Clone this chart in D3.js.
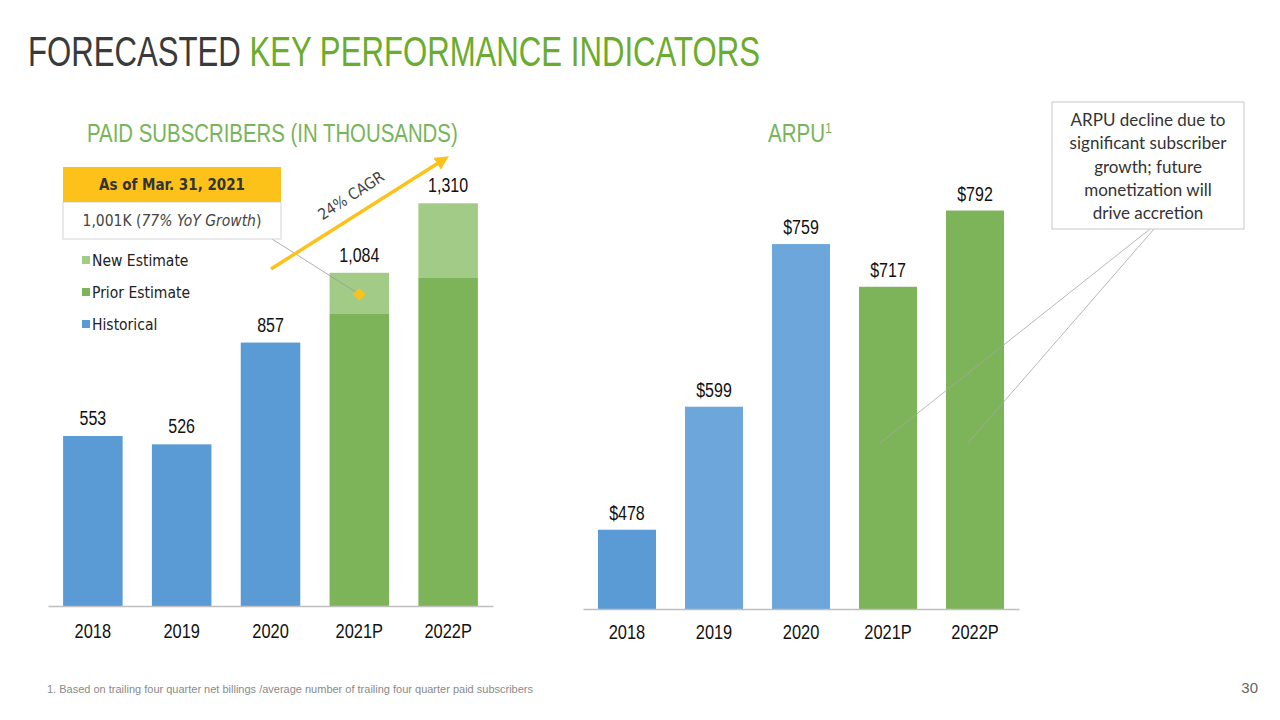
<!DOCTYPE html>
<html>
<head>
<meta charset="utf-8">
<script src="https://cdn.jsdelivr.net/npm/d3@7"></script>
<style>
  html, body { margin: 0; padding: 0; background: #fff; }
  svg { display: block; }
</style>
</head>
<body>
<svg id="chart" width="1280" height="720"></svg>
<script>
// ---------------- DATA ----------------
const categories = ["2018", "2019", "2020", "2021P", "2022P"];
const historicalSubs = [553, 526, 857, null, null];
const priorEstimateSubs = [null, null, null, 950, 1067];
const newEstimateSubs = [null, null, null, 134, 243];
const subsTotals = [553, 526, 857, 1084, 1310];
const asOfValue = 1001;            // diamond marker, 2021P
const asOfCategory = "2021P";
const arpuValues = [478, 599, 759, 717, 792];
const arpuKinds = ["hist", "hist2", "hist2", "proj", "proj"];
const legendLabels = ["New Estimate", "Prior Estimate", "Historical"];
const annotationLines = ["ARPU decline due to", "significant subscriber", "growth; future", "monetization will", "drive accretion"];

// ---------------- STYLE ----------------
const C = {
  blue: "#5b9bd5",
  blue2: "#6ca6da",
  green: "#7db45a",
  lightGreen: "#a2cb88",
  gold: "#fdc21a",
  axis: "#bfbfbf",
  titleDark: "#3a3a3a",
  titleGreen: "#6cac2c",
  subGreen: "#78b45a"
};
const narrow = "'Liberation Sans', Arial, sans-serif";
const cond = "'DejaVu Sans Condensed', 'DejaVu Sans', sans-serif";
const calib = "Lato, 'Open Sans', sans-serif";

const svg = d3.select("#chart");

// condense a text horizontally (emulates a narrow typeface)
function squeeze(sel, ratio) {
  sel.each(function() {
    const len = this.getComputedTextLength();
    d3.select(this).attr("textLength", len * ratio).attr("lengthAdjust", "spacingAndGlyphs");
  });
}
function fitTo(sel, w) {
  sel.each(function() {
    d3.select(this).attr("textLength", w).attr("lengthAdjust", "spacingAndGlyphs");
  });
}
// horizontally scaled text group: returns the text selection, scaled to target width
function scaledText(x, y, width, build) {
  const g = svg.append("g");
  const t = g.append("text").attr("x", 0).attr("y", 0);
  build(t);
  const w = t.node().getComputedTextLength();
  g.attr("transform", `translate(${x},${y}) scale(${width / w},1)`);
  return t;
}

// ---------------- TITLE ----------------
scaledText(28, 66, 732, t => {
  t.style("font-family", narrow).style("font-size", "42px");
  t.append("tspan").attr("fill", C.titleDark).text("FORECASTED ");
  t.append("tspan").attr("fill", C.titleGreen).text("KEY PERFORMANCE INDICATORS");
});

// subtitles
scaledText(87, 142, 371, t => {
  t.style("font-family", narrow).style("font-size", "25px").attr("fill", C.subGreen)
    .text("PAID SUBSCRIBERS (IN THOUSANDS)");
});
scaledText(768, 142, 64, t => {
  t.style("font-family", narrow).style("font-size", "25px").attr("fill", C.subGreen);
  t.append("tspan").text("ARPU");
  t.append("tspan").attr("dy", -9).style("font-size", "15px").text("1");
});

// ---------------- LEFT CHART ----------------
const xL = d3.scaleBand().domain(categories).range([48, 493]).paddingInner(0.33).paddingOuter(0.17);
const yL = d3.scaleLinear().domain([0, 1400]).range([606, 606 - 1400 * 0.3074]);

const left = svg.append("g");
const subsRows = categories.map((c, i) => ({
  cat: c, hist: historicalSubs[i], prior: priorEstimateSubs[i], nw: newEstimateSubs[i], total: subsTotals[i]
}));

left.selectAll(".hist").data(subsRows.filter(d => d.hist != null)).join("rect")
  .attr("x", d => xL(d.cat)).attr("width", xL.bandwidth())
  .attr("y", d => yL(d.hist)).attr("height", d => yL(0) - yL(d.hist))
  .attr("fill", C.blue);
left.selectAll(".prior").data(subsRows.filter(d => d.prior != null)).join("rect")
  .attr("x", d => xL(d.cat)).attr("width", xL.bandwidth())
  .attr("y", d => yL(d.prior)).attr("height", d => yL(0) - yL(d.prior))
  .attr("fill", C.green);
left.selectAll(".new").data(subsRows.filter(d => d.nw != null)).join("rect")
  .attr("x", d => xL(d.cat)).attr("width", xL.bandwidth())
  .attr("y", d => yL(d.prior + d.nw)).attr("height", d => yL(d.prior) - yL(d.prior + d.nw))
  .attr("fill", C.lightGreen);

left.selectAll(".lbl").data(subsRows).join("text")
  .attr("x", d => xL(d.cat) + xL.bandwidth() / 2)
  .attr("y", d => yL(d.total) - 11)
  .attr("text-anchor", "middle")
  .style("font-family", narrow).style("font-size", "20px").attr("fill", "#111")
  .text(d => d3.format(",")(d.total))
  .call(squeeze, 0.8);

const axL = left.append("g").attr("transform", `translate(0,${yL(0)})`)
  .call(d3.axisBottom(xL).tickSize(0).tickPadding(18).tickSizeOuter(0));
axL.select(".domain").attr("stroke", C.axis).attr("stroke-width", 1.5);
axL.selectAll("text").style("font-family", narrow).style("font-size", "20px").attr("fill", "#111")
  .call(squeeze, 0.82);

// legend
const legendColors = [C.lightGreen, C.green, C.blue];
const lg = left.append("g");
legendLabels.forEach((l, i) => {
  const cy = 261 + i * 32;
  lg.append("rect").attr("x", 82).attr("y", cy - 5).attr("width", 8).attr("height", 8).attr("fill", legendColors[i]);
  lg.append("text").attr("x", 92).attr("y", cy).attr("dy", "0.35em")
    .style("font-family", cond).style("font-size", "15.5px").attr("fill", "#222").text(l);
});

// diamond marker and connector
const dx = xL(asOfCategory) + xL.bandwidth() / 2, dy = yL(asOfValue) - 4;
left.append("line").attr("x1", 272).attr("y1", 239).attr("x2", dx).attr("y2", dy)
  .attr("stroke", "#9a9a9a").attr("stroke-width", 0.8);
left.append("rect").attr("x", -4.5).attr("y", -4.5).attr("width", 9).attr("height", 9)
  .attr("fill", C.gold).attr("transform", `translate(${dx},${dy}) rotate(45)`);

// callout box
left.append("rect").attr("x", 63).attr("y", 202).attr("width", 218).attr("height", 37)
  .attr("fill", "#fff").attr("stroke", "#d4d4d4").attr("stroke-width", 1);
left.append("rect").attr("x", 63).attr("y", 167).attr("width", 218).attr("height", 35).attr("fill", C.gold);
left.append("text").attr("x", 172).attr("y", 185).attr("dy", "0.35em").attr("text-anchor", "middle")
  .style("font-family", cond).style("font-size", "15px").style("font-weight", "bold").attr("fill", "#333")
  .text("As of Mar. 31, 2021");
const bt = left.append("text").attr("x", 172).attr("y", 221).attr("dy", "0.35em").attr("text-anchor", "middle")
  .style("font-family", cond).style("font-size", "15.5px").attr("fill", "#444");
bt.append("tspan").text("1,001K (");
bt.append("tspan").style("font-style", "italic").text("77% YoY Growth");
bt.append("tspan").text(")");

// CAGR arrow
svg.append("defs").append("marker").attr("id", "arrow").attr("viewBox", "0 0 10 10")
  .attr("refX", 5).attr("refY", 5).attr("markerWidth", 4).attr("markerHeight", 4).attr("orient", "auto")
  .append("path").attr("d", "M0,0 L10,5 L0,10 z").attr("fill", C.gold);
left.append("line").attr("x1", 271).attr("y1", 269).attr("x2", 443).attr("y2", 160)
  .attr("stroke", C.gold).attr("stroke-width", 3.5).attr("marker-end", "url(#arrow)");
left.append("text").attr("transform", "translate(354,200) rotate(-33)").attr("text-anchor", "middle")
  .style("font-family", cond).style("font-size", "15.5px").attr("fill", "#444").text("24% CAGR");

// ---------------- RIGHT CHART ----------------
const xR = d3.scaleBand().domain(categories).range([583, 1019]).paddingInner(0.333).paddingOuter(0.172);
const yR = d3.scaleLinear().domain([400, 800]).range([609, 609 - 400 * 1.0165]);
const arpuColor = { hist: C.blue, hist2: C.blue2, proj: C.green };
const right = svg.append("g");
const arpuRows = categories.map((c, i) => ({ cat: c, v: arpuValues[i], k: arpuKinds[i] }));

right.selectAll(".bar").data(arpuRows).join("rect")
  .attr("x", d => xR(d.cat)).attr("width", xR.bandwidth())
  .attr("y", d => yR(d.v)).attr("height", d => yR(400) - yR(d.v))
  .attr("fill", d => arpuColor[d.k]);
right.selectAll(".lbl").data(arpuRows).join("text")
  .attr("x", d => xR(d.cat) + xR.bandwidth() / 2)
  .attr("y", d => yR(d.v) - 10)
  .attr("text-anchor", "middle")
  .style("font-family", narrow).style("font-size", "20px").attr("fill", "#111")
  .text(d => "$" + d.v)
  .call(squeeze, 0.8);

const axR = right.append("g").attr("transform", `translate(0,${yR(400)})`)
  .call(d3.axisBottom(xR).tickSize(0).tickPadding(16).tickSizeOuter(0));
axR.select(".domain").attr("stroke", C.axis).attr("stroke-width", 1.5);
axR.selectAll("text").style("font-family", narrow).style("font-size", "20px").attr("fill", "#111")
  .call(squeeze, 0.82);

// annotation connectors
const aY = yR(400) - 166;
right.append("line").attr("x1", 1150).attr("y1", 229).attr("x2", xR("2021P") + xR.bandwidth() / 2 - 8).attr("y2", aY)
  .attr("stroke", "#a6a6a6").attr("stroke-width", 0.8);
right.append("line").attr("x1", 1154).attr("y1", 229).attr("x2", xR("2022P") + xR.bandwidth() / 2 - 7).attr("y2", aY)
  .attr("stroke", "#a6a6a6").attr("stroke-width", 0.8);

// annotation box
right.append("rect").attr("x", 1052).attr("y", 102).attr("width", 192).attr("height", 127)
  .attr("fill", "#fff").attr("stroke", "#c8c8c8").attr("stroke-width", 1);
right.selectAll(".ann").data(annotationLines).join("text")
  .attr("x", 1148).attr("y", (d, i) => 120 + i * 23.3).attr("dy", "0.35em").attr("text-anchor", "middle")
  .style("font-family", calib).style("font-size", "17px").attr("fill", "#333").text(d => d);

// ---------------- FOOTER ----------------
svg.append("text").attr("x", 47).attr("y", 693)
  .style("font-family", narrow).style("font-size", "11.5px").attr("fill", "#8a8a8a")
  .text("1. Based on trailing four quarter net billings /average number of trailing four quarter paid subscribers")
  .call(fitTo, 486);
svg.append("text").attr("x", 1258).attr("y", 693).attr("text-anchor", "end")
  .style("font-family", narrow).style("font-size", "15px").attr("fill", "#666").text("30");
</script>
</body>
</html>
